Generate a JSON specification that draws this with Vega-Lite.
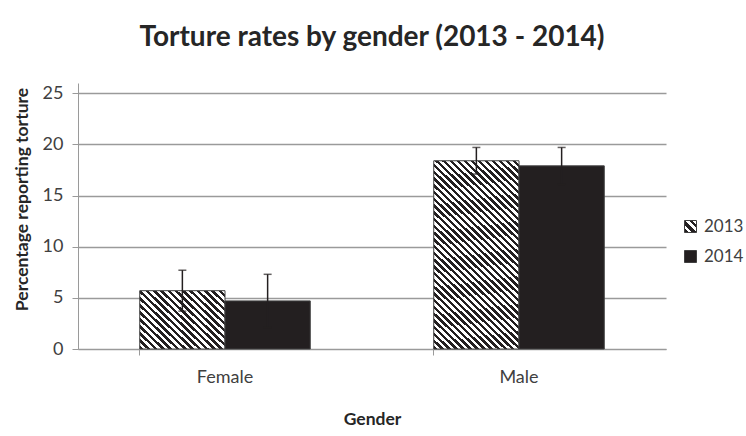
{
  "$schema": "https://vega.github.io/schema/vega-lite/v6.json",
  "autosize": "none",
  "width": 588,
  "height": 266,
  "padding": {"left": 78, "top": 83, "right": 80, "bottom": 87},
  "background": "#ffffff",
  "title": {
    "text": "Torture rates by gender (2013 - 2014)",
    "font": "Lato",
    "fontSize": 28,
    "fontWeight": "bold",
    "color": "#262626",
    "anchor": "middle",
    "offset": 31
  },
  "config": {
    "font": "Lato",
    "view": {"stroke": null},
    "axis": {
      "domainColor": "#9a9a9a",
      "tickColor": "#9a9a9a",
      "labelColor": "#404040",
      "labelFont": "Lato",
      "labelFontSize": 18,
      "titleFont": "Lato",
      "titleColor": "#262626",
      "titleFontWeight": "bold",
      "titleFontSize": 17.5
    }
  },
  "data": {
    "values": [
      {"gender": "Female", "year": "2013", "value": 5.7, "lo": 3.7, "hi": 7.7},
      {"gender": "Female", "year": "2014", "value": 4.7, "lo": 2.1, "hi": 7.3},
      {"gender": "Male", "year": "2013", "value": 18.4, "lo": 17.1, "hi": 19.7},
      {"gender": "Male", "year": "2014", "value": 17.9, "lo": 16.1, "hi": 19.7}
    ]
  },
  "encoding": {
    "x": {
      "field": "gender",
      "type": "nominal",
      "scale": {"paddingInner": 0.42, "paddingOuter": 0.21},
      "axis": {
        "title": "Gender",
        "labelAngle": 0,
        "bandPosition": 0,
        "tickSize": 6,
        "labelPadding": 13,
        "titlePadding": 24,
        "grid": false
      }
    },
    "xOffset": {"field": "year", "type": "nominal", "scale": {"paddingInner": 0}}
  },
  "layer": [
    {
      "mark": {"type": "bar", "stroke": "#404040", "strokeWidth": 1},
      "encoding": {
        "y": {
          "field": "value",
          "type": "quantitative",
          "scale": {"domain": [0, 25]},
          "axis": {
            "title": "Percentage reporting torture",
            "values": [0, 5, 10, 15, 20, 25],
            "grid": true,
            "gridColor": "#9a9a9a",
            "gridWidth": 1.5,
            "tickSize": 6,
            "labelPadding": 9,
            "titlePadding": 11,
            "titleY": 116
          }
        },
        "fill": {
          "field": "year",
          "type": "nominal",
          "condition": [
            {
              "test": "datum.gender === 'Female' && datum.year === '2013'",
              "value": {
                "gradient": "linear", "x1": 0, "y1": 1, "x2": 1.137, "y2": 0.192,
                "stops": [
                  {"offset": 0, "color": "#231f20"}, {"offset": 0.025, "color": "#231f20"}, {"offset": 0.025, "color": "#ffffff"}, {"offset": 0.05, "color": "#ffffff"},
                  {"offset": 0.05, "color": "#231f20"}, {"offset": 0.075, "color": "#231f20"}, {"offset": 0.075, "color": "#ffffff"}, {"offset": 0.1, "color": "#ffffff"},
                  {"offset": 0.1, "color": "#231f20"}, {"offset": 0.125, "color": "#231f20"}, {"offset": 0.125, "color": "#ffffff"}, {"offset": 0.15, "color": "#ffffff"},
                  {"offset": 0.15, "color": "#231f20"}, {"offset": 0.175, "color": "#231f20"}, {"offset": 0.175, "color": "#ffffff"}, {"offset": 0.2, "color": "#ffffff"},
                  {"offset": 0.2, "color": "#231f20"}, {"offset": 0.225, "color": "#231f20"}, {"offset": 0.225, "color": "#ffffff"}, {"offset": 0.25, "color": "#ffffff"},
                  {"offset": 0.25, "color": "#231f20"}, {"offset": 0.275, "color": "#231f20"}, {"offset": 0.275, "color": "#ffffff"}, {"offset": 0.3, "color": "#ffffff"},
                  {"offset": 0.3, "color": "#231f20"}, {"offset": 0.325, "color": "#231f20"}, {"offset": 0.325, "color": "#ffffff"}, {"offset": 0.35, "color": "#ffffff"},
                  {"offset": 0.35, "color": "#231f20"}, {"offset": 0.375, "color": "#231f20"}, {"offset": 0.375, "color": "#ffffff"}, {"offset": 0.4, "color": "#ffffff"},
                  {"offset": 0.4, "color": "#231f20"}, {"offset": 0.425, "color": "#231f20"}, {"offset": 0.425, "color": "#ffffff"}, {"offset": 0.45, "color": "#ffffff"},
                  {"offset": 0.45, "color": "#231f20"}, {"offset": 0.475, "color": "#231f20"}, {"offset": 0.475, "color": "#ffffff"}, {"offset": 0.5, "color": "#ffffff"},
                  {"offset": 0.5, "color": "#231f20"}, {"offset": 0.525, "color": "#231f20"}, {"offset": 0.525, "color": "#ffffff"}, {"offset": 0.55, "color": "#ffffff"},
                  {"offset": 0.55, "color": "#231f20"}, {"offset": 0.575, "color": "#231f20"}, {"offset": 0.575, "color": "#ffffff"}, {"offset": 0.6, "color": "#ffffff"},
                  {"offset": 0.6, "color": "#231f20"}, {"offset": 0.625, "color": "#231f20"}, {"offset": 0.625, "color": "#ffffff"}, {"offset": 0.65, "color": "#ffffff"},
                  {"offset": 0.65, "color": "#231f20"}, {"offset": 0.675, "color": "#231f20"}, {"offset": 0.675, "color": "#ffffff"}, {"offset": 0.7, "color": "#ffffff"},
                  {"offset": 0.7, "color": "#231f20"}, {"offset": 0.725, "color": "#231f20"}, {"offset": 0.725, "color": "#ffffff"}, {"offset": 0.75, "color": "#ffffff"},
                  {"offset": 0.75, "color": "#231f20"}, {"offset": 0.775, "color": "#231f20"}, {"offset": 0.775, "color": "#ffffff"}, {"offset": 0.8, "color": "#ffffff"},
                  {"offset": 0.8, "color": "#231f20"}, {"offset": 0.825, "color": "#231f20"}, {"offset": 0.825, "color": "#ffffff"}, {"offset": 0.85, "color": "#ffffff"},
                  {"offset": 0.85, "color": "#231f20"}, {"offset": 0.875, "color": "#231f20"}, {"offset": 0.875, "color": "#ffffff"}, {"offset": 0.9, "color": "#ffffff"},
                  {"offset": 0.9, "color": "#231f20"}, {"offset": 0.925, "color": "#231f20"}, {"offset": 0.925, "color": "#ffffff"}, {"offset": 0.95, "color": "#ffffff"},
                  {"offset": 0.95, "color": "#231f20"}, {"offset": 0.975, "color": "#231f20"}, {"offset": 0.975, "color": "#ffffff"}, {"offset": 1, "color": "#ffffff"}
                ]
              }
            },
            {
              "test": "datum.gender === 'Male' && datum.year === '2013'",
              "value": {
                "gradient": "linear", "x1": 0, "y1": 1, "x2": 0.525, "y2": -0.207,
                "stops": [
                  {"offset": 0, "color": "#231f20"}, {"offset": 0.0125, "color": "#231f20"}, {"offset": 0.0125, "color": "#ffffff"}, {"offset": 0.025, "color": "#ffffff"},
                  {"offset": 0.025, "color": "#231f20"}, {"offset": 0.0375, "color": "#231f20"}, {"offset": 0.0375, "color": "#ffffff"}, {"offset": 0.05, "color": "#ffffff"},
                  {"offset": 0.05, "color": "#231f20"}, {"offset": 0.0625, "color": "#231f20"}, {"offset": 0.0625, "color": "#ffffff"}, {"offset": 0.075, "color": "#ffffff"},
                  {"offset": 0.075, "color": "#231f20"}, {"offset": 0.0875, "color": "#231f20"}, {"offset": 0.0875, "color": "#ffffff"}, {"offset": 0.1, "color": "#ffffff"},
                  {"offset": 0.1, "color": "#231f20"}, {"offset": 0.1125, "color": "#231f20"}, {"offset": 0.1125, "color": "#ffffff"}, {"offset": 0.125, "color": "#ffffff"},
                  {"offset": 0.125, "color": "#231f20"}, {"offset": 0.1375, "color": "#231f20"}, {"offset": 0.1375, "color": "#ffffff"}, {"offset": 0.15, "color": "#ffffff"},
                  {"offset": 0.15, "color": "#231f20"}, {"offset": 0.1625, "color": "#231f20"}, {"offset": 0.1625, "color": "#ffffff"}, {"offset": 0.175, "color": "#ffffff"},
                  {"offset": 0.175, "color": "#231f20"}, {"offset": 0.1875, "color": "#231f20"}, {"offset": 0.1875, "color": "#ffffff"}, {"offset": 0.2, "color": "#ffffff"},
                  {"offset": 0.2, "color": "#231f20"}, {"offset": 0.2125, "color": "#231f20"}, {"offset": 0.2125, "color": "#ffffff"}, {"offset": 0.225, "color": "#ffffff"},
                  {"offset": 0.225, "color": "#231f20"}, {"offset": 0.2375, "color": "#231f20"}, {"offset": 0.2375, "color": "#ffffff"}, {"offset": 0.25, "color": "#ffffff"},
                  {"offset": 0.25, "color": "#231f20"}, {"offset": 0.2625, "color": "#231f20"}, {"offset": 0.2625, "color": "#ffffff"}, {"offset": 0.275, "color": "#ffffff"},
                  {"offset": 0.275, "color": "#231f20"}, {"offset": 0.2875, "color": "#231f20"}, {"offset": 0.2875, "color": "#ffffff"}, {"offset": 0.3, "color": "#ffffff"},
                  {"offset": 0.3, "color": "#231f20"}, {"offset": 0.3125, "color": "#231f20"}, {"offset": 0.3125, "color": "#ffffff"}, {"offset": 0.325, "color": "#ffffff"},
                  {"offset": 0.325, "color": "#231f20"}, {"offset": 0.3375, "color": "#231f20"}, {"offset": 0.3375, "color": "#ffffff"}, {"offset": 0.35, "color": "#ffffff"},
                  {"offset": 0.35, "color": "#231f20"}, {"offset": 0.3625, "color": "#231f20"}, {"offset": 0.3625, "color": "#ffffff"}, {"offset": 0.375, "color": "#ffffff"},
                  {"offset": 0.375, "color": "#231f20"}, {"offset": 0.3875, "color": "#231f20"}, {"offset": 0.3875, "color": "#ffffff"}, {"offset": 0.4, "color": "#ffffff"},
                  {"offset": 0.4, "color": "#231f20"}, {"offset": 0.4125, "color": "#231f20"}, {"offset": 0.4125, "color": "#ffffff"}, {"offset": 0.425, "color": "#ffffff"},
                  {"offset": 0.425, "color": "#231f20"}, {"offset": 0.4375, "color": "#231f20"}, {"offset": 0.4375, "color": "#ffffff"}, {"offset": 0.45, "color": "#ffffff"},
                  {"offset": 0.45, "color": "#231f20"}, {"offset": 0.4625, "color": "#231f20"}, {"offset": 0.4625, "color": "#ffffff"}, {"offset": 0.475, "color": "#ffffff"},
                  {"offset": 0.475, "color": "#231f20"}, {"offset": 0.4875, "color": "#231f20"}, {"offset": 0.4875, "color": "#ffffff"}, {"offset": 0.5, "color": "#ffffff"},
                  {"offset": 0.5, "color": "#231f20"}, {"offset": 0.5125, "color": "#231f20"}, {"offset": 0.5125, "color": "#ffffff"}, {"offset": 0.525, "color": "#ffffff"},
                  {"offset": 0.525, "color": "#231f20"}, {"offset": 0.5375, "color": "#231f20"}, {"offset": 0.5375, "color": "#ffffff"}, {"offset": 0.55, "color": "#ffffff"},
                  {"offset": 0.55, "color": "#231f20"}, {"offset": 0.5625, "color": "#231f20"}, {"offset": 0.5625, "color": "#ffffff"}, {"offset": 0.575, "color": "#ffffff"},
                  {"offset": 0.575, "color": "#231f20"}, {"offset": 0.5875, "color": "#231f20"}, {"offset": 0.5875, "color": "#ffffff"}, {"offset": 0.6, "color": "#ffffff"},
                  {"offset": 0.6, "color": "#231f20"}, {"offset": 0.6125, "color": "#231f20"}, {"offset": 0.6125, "color": "#ffffff"}, {"offset": 0.625, "color": "#ffffff"},
                  {"offset": 0.625, "color": "#231f20"}, {"offset": 0.6375, "color": "#231f20"}, {"offset": 0.6375, "color": "#ffffff"}, {"offset": 0.65, "color": "#ffffff"},
                  {"offset": 0.65, "color": "#231f20"}, {"offset": 0.6625, "color": "#231f20"}, {"offset": 0.6625, "color": "#ffffff"}, {"offset": 0.675, "color": "#ffffff"},
                  {"offset": 0.675, "color": "#231f20"}, {"offset": 0.6875, "color": "#231f20"}, {"offset": 0.6875, "color": "#ffffff"}, {"offset": 0.7, "color": "#ffffff"},
                  {"offset": 0.7, "color": "#231f20"}, {"offset": 0.7125, "color": "#231f20"}, {"offset": 0.7125, "color": "#ffffff"}, {"offset": 0.725, "color": "#ffffff"},
                  {"offset": 0.725, "color": "#231f20"}, {"offset": 0.7375, "color": "#231f20"}, {"offset": 0.7375, "color": "#ffffff"}, {"offset": 0.75, "color": "#ffffff"},
                  {"offset": 0.75, "color": "#231f20"}, {"offset": 0.7625, "color": "#231f20"}, {"offset": 0.7625, "color": "#ffffff"}, {"offset": 0.775, "color": "#ffffff"},
                  {"offset": 0.775, "color": "#231f20"}, {"offset": 0.7875, "color": "#231f20"}, {"offset": 0.7875, "color": "#ffffff"}, {"offset": 0.8, "color": "#ffffff"},
                  {"offset": 0.8, "color": "#231f20"}, {"offset": 0.8125, "color": "#231f20"}, {"offset": 0.8125, "color": "#ffffff"}, {"offset": 0.825, "color": "#ffffff"},
                  {"offset": 0.825, "color": "#231f20"}, {"offset": 0.8375, "color": "#231f20"}, {"offset": 0.8375, "color": "#ffffff"}, {"offset": 0.85, "color": "#ffffff"},
                  {"offset": 0.85, "color": "#231f20"}, {"offset": 0.8625, "color": "#231f20"}, {"offset": 0.8625, "color": "#ffffff"}, {"offset": 0.875, "color": "#ffffff"},
                  {"offset": 0.875, "color": "#231f20"}, {"offset": 0.8875, "color": "#231f20"}, {"offset": 0.8875, "color": "#ffffff"}, {"offset": 0.9, "color": "#ffffff"},
                  {"offset": 0.9, "color": "#231f20"}, {"offset": 0.9125, "color": "#231f20"}, {"offset": 0.9125, "color": "#ffffff"}, {"offset": 0.925, "color": "#ffffff"},
                  {"offset": 0.925, "color": "#231f20"}, {"offset": 0.9375, "color": "#231f20"}, {"offset": 0.9375, "color": "#ffffff"}, {"offset": 0.95, "color": "#ffffff"},
                  {"offset": 0.95, "color": "#231f20"}, {"offset": 0.9625, "color": "#231f20"}, {"offset": 0.9625, "color": "#ffffff"}, {"offset": 0.975, "color": "#ffffff"},
                  {"offset": 0.975, "color": "#231f20"}, {"offset": 0.9875, "color": "#231f20"}, {"offset": 0.9875, "color": "#ffffff"}, {"offset": 1, "color": "#ffffff"}
                ]
              }
            }
          ],
          "scale": {
            "domain": ["2013", "2014"],
            "range": [
              {"expr": "{gradient: 'linear', x1: 0, y1: 1, x2: 1, y2: 0, stops: [{offset: 0, color: '#231f20'}, {offset: 0.1667, color: '#231f20'}, {offset: 0.1667, color: '#ffffff'}, {offset: 0.3333, color: '#ffffff'}, {offset: 0.3333, color: '#231f20'}, {offset: 0.5, color: '#231f20'}, {offset: 0.5, color: '#ffffff'}, {offset: 0.6667, color: '#ffffff'}, {offset: 0.6667, color: '#231f20'}, {offset: 0.8333, color: '#231f20'}, {offset: 0.8333, color: '#ffffff'}, {offset: 1, color: '#ffffff'}]}"},
              "#231f20"
            ]
          },
          "legend": {
            "title": null,
            "orient": "none",
            "legendX": 604,
            "legendY": 135,
            "symbolType": "square",
            "symbolSize": 144,
            "symbolStrokeColor": "#404040",
            "symbolStrokeWidth": 1,
            "labelFont": "Lato",
            "labelFontSize": 17,
            "labelColor": "#404040",
            "labelOffset": 5,
            "rowPadding": 12
          }
        }
      }
    },
    {
      "mark": {"type": "rule", "color": "#231f20", "strokeWidth": 1.5},
      "encoding": {
        "y": {"field": "lo", "type": "quantitative"},
        "y2": {"field": "hi"}
      }
    },
    {
      "mark": {"type": "tick", "color": "#231f20", "thickness": 1.5, "size": 8},
      "encoding": {"y": {"field": "lo", "type": "quantitative"}}
    },
    {
      "mark": {"type": "tick", "color": "#231f20", "thickness": 1.5, "size": 8},
      "encoding": {"y": {"field": "hi", "type": "quantitative"}}
    }
  ]
}
